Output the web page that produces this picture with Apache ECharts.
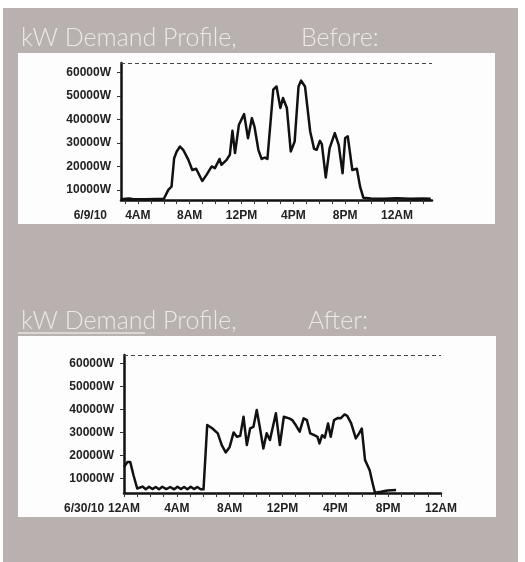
<!DOCTYPE html>
<html><head><meta charset="utf-8">
<script src="https://cdn.jsdelivr.net/npm/echarts@6/dist/echarts.min.js"></script>
<style>html,body{margin:0;padding:0;background:#fff;}#c{width:525px;height:562px;}</style>
</head><body><div id="c"></div><script>
// ---- data ----
const titleLeft = 'kW Demand Profile,';
const titleBefore = 'Before:';
const titleAfter = 'After:';
const dateBefore = '6/9/10';
const dateAfter = '6/30/10';

// hour of day (24+ = next day) and demand in W
const hoursBefore = [2.7,3.3,3.4,3.6,4.5,5.5,6.0,6.35,6.6,6.8,7.0,7.25,7.5,7.9,8.2,8.5,8.97,9.3,9.7,9.95,10.3,10.45,10.85,11.1,11.3,11.5,11.8,12.2,12.5,12.8,13.0,13.3,13.55,13.8,14.0,14.45,14.7,15.0,15.2,15.5,15.8,16.1,16.4,16.6,16.9,17.3,17.6,17.8,18.05,18.2,18.5,18.8,19.2,19.5,19.8,20.0,20.2,20.55,20.9,21.15,21.4,22.0,23.0,24.0,25.0,26.0,26.6];
const kwBefore = [6000,6300,6800,6100,6000,6100,6100,10000,11400,23500,26400,28500,27100,22800,18500,19000,13800,16400,20000,19300,23200,20700,22800,25000,35200,25700,37800,42300,32000,40600,37000,27100,23200,23800,23200,52700,54100,44900,49200,44900,26400,30600,54100,56600,54100,34900,27500,27100,30900,29500,15300,27800,34200,29200,17100,32100,32800,18500,19000,11400,6700,6300,6200,6400,6200,6300,6200];

const hoursAfter = [0,0.27,0.47,0.72,1.0,1.15,1.4,1.65,1.9,2.15,2.4,2.65,2.9,3.2,3.5,3.8,4.05,4.3,4.55,4.8,5.05,5.3,5.55,5.8,6.02,6.3,6.7,7.1,7.4,7.7,8.0,8.3,8.55,8.8,9.05,9.3,9.55,9.8,10.05,10.3,10.55,10.8,11.05,11.5,11.8,12.1,12.5,12.75,13.0,13.3,13.6,13.85,14.1,14.4,14.65,14.8,15.0,15.2,15.45,15.65,15.9,16.2,16.4,16.7,16.9,17.2,17.55,17.8,18.0,18.25,18.6,18.8,19.0,19.45,19.95,20.6];
const kwAfter = [15000,17200,17200,11400,5650,5300,6500,5300,6400,5400,6300,5300,6400,5400,6300,5300,6400,5400,6300,5300,6400,5400,6300,5300,5300,33200,31700,29600,24500,21300,23700,30000,28100,28500,36800,24500,31700,32400,39700,31700,23000,29600,26700,38300,24500,36800,36100,35300,33200,30300,36100,35300,29600,28800,28100,25200,28800,27700,33900,28100,35300,36300,36100,37800,37200,33900,27400,29600,31700,18000,13600,8500,3800,4200,4800,5000];

const yTickValues = [10000,20000,30000,40000,50000,60000];
const xLabelHoursBefore = [4,8,12,16,20,24];
const xLabelHoursAfter = [0,4,8,12,16,20,24];
const xTickHoursBefore = [3,4,5,6,7,8,9,10,11,12,13,14,15,16,17,18,19,20,21,22,23,24,25,26];
const xTickHoursAfter = [0,1,2,3,4,5,6,7,8,9,10,11,12,13,14,15,16,17,18,19,20,21,22,23,24];
const peakBefore = 64100;
const peakAfter = 63600;

// ---- chart ----
function hourLabel(v){
  const h = ((Math.round(v) % 24) + 24) % 24;
  if (h === 0) return '12AM';
  if (h < 12) return h + 'AM';
  if (h === 12) return '12PM';
  return (h - 12) + 'PM';
}
const lblStyle = {fontFamily:'Liberation Sans, Arial, sans-serif', fontWeight:'bold', fontSize:12, color:'#222'};
function xAxisCfg(grid, min, max, labels, ticks, date, gap){
  return {
    type:'value', gridIndex:grid, min:min, max:max,
    name:date, nameLocation:'start', nameGap:gap,
    nameTextStyle:Object.assign({verticalAlign:'top', padding:[10,0,0,0]}, lblStyle),
    axisLine:{lineStyle:{color:'#111', width:2.5}},
    axisTick:{show:true, customValues:ticks, length:4, lineStyle:{color:'#333', width:1}},
    axisLabel:Object.assign({customValues:labels, margin:10, formatter:hourLabel}, lblStyle),
    splitLine:{show:false}
  };
}
function yAxisCfg(grid, min, max){
  return {
    type:'value', gridIndex:grid, min:min, max:max,
    axisLine:{show:true, lineStyle:{color:'#111', width:2.5}},
    axisTick:{show:true, customValues:yTickValues, length:4, lineStyle:{color:'#333', width:1}},
    axisLabel:Object.assign({customValues:yTickValues, margin:10, formatter:v => v + 'W'}, lblStyle),
    splitLine:{show:false}
  };
}
function seriesCfg(idx, hours, vals, peak){
  return {
    type:'line', xAxisIndex:idx, yAxisIndex:idx,
    data:hours.map((h,i)=>[h, vals[i]]),
    showSymbol:false, smooth:false, z:3,
    lineStyle:{color:'#111', width:2.5, join:'round'},
    markLine:{silent:true, symbol:'none', label:{show:false},
      lineStyle:{type:[4,3], color:'#444', width:1},
      data:[{yAxis:peak}]}
  };
}
const titleFont = {fontFamily:'Lato, "Open Sans", sans-serif', fontWeight:300, fontSize:25, color:'#ece8e6'};
const chart = echarts.init(document.getElementById('c'));
chart.setOption({
  animation:false,
  backgroundColor:'#ffffff',
  graphic:[
    {type:'rect', z:-10, shape:{x:3, y:8, width:515, height:554}, style:{fill:'#b9b1af'}},
    {type:'rect', z:-9, shape:{x:18, y:53, width:477, height:171}, style:{fill:'#fdfdfd'}},
    {type:'rect', z:-9, shape:{x:18, y:336, width:478, height:181}, style:{fill:'#fdfdfd'}},
    {type:'line', z:-9, shape:{x1:18, y1:333, x2:145, y2:333}, style:{stroke:'#dcd7d6', lineWidth:2}}
  ],
  title:[
    {text:titleLeft, left:16, top:20, textStyle:titleFont},
    {text:titleBefore, left:296, top:20, textStyle:titleFont},
    {text:titleLeft, left:16, top:303, textStyle:titleFont},
    {text:titleAfter, left:303, top:303, textStyle:titleFont}
  ],
  grid:[
    {left:121, top:63, width:311, height:137},
    {left:124, top:355, width:317, height:138}
  ],
  xAxis:[
    xAxisCfg(0, 2.7, 26.7, xLabelHoursBefore, xTickHoursBefore, dateBefore, 14),
    xAxisCfg(1, 0, 24, xLabelHoursAfter, xTickHoursAfter, dateAfter, 19)
  ],
  yAxis:[ yAxisCfg(0, 5700, peakBefore), yAxisCfg(1, 3700, peakAfter) ],
  series:[
    seriesCfg(0, hoursBefore, kwBefore, peakBefore),
    seriesCfg(1, hoursAfter, kwAfter, peakAfter)
  ]
});
</script></body></html>
